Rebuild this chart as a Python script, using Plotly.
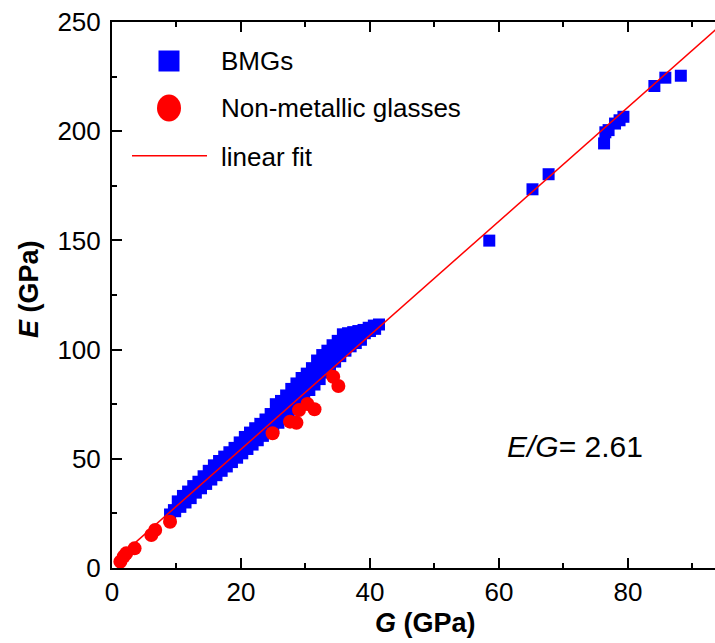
import plotly.graph_objects as go

# ---------------- data ----------------
bmg_G = [9.0, 9.6, 10.4, 11.2, 12.0, 12.8, 13.6, 14.4, 15.2, 16.0, 16.8, 17.6, 18.4, 19.2, 20.0,
         20.8, 21.6, 22.4, 23.2, 24.0, 24.8, 25.6, 26.4, 27.2, 28.0, 28.8, 29.6, 30.4, 31.2, 32.0,
         32.8, 33.6, 34.4, 35.2, 36.0, 36.8, 37.6, 38.4, 39.2, 40.0, 40.8,
         10.2, 11.0, 11.8, 12.6, 13.4, 14.2, 15.0, 15.8, 16.6, 17.4, 18.2, 19.0, 19.8, 20.6, 21.4,
         22.2, 23.0, 23.8, 24.6, 25.4, 26.2, 27.0, 27.8, 28.6, 29.4, 30.2, 31.0, 31.8, 32.6, 33.4,
         34.2, 35.0, 35.8, 36.6, 37.4, 38.2, 39.0, 39.8, 40.6, 41.4,
         9.8, 10.6, 11.4, 12.2, 13.0, 13.8, 14.6, 15.4, 16.2, 17.0, 17.8, 18.6, 19.4, 20.2, 21.0,
         21.8, 22.6, 23.4, 24.2, 25.0, 25.8, 26.6, 27.4, 28.2, 29.0, 29.8, 30.6, 31.4, 32.2, 33.0,
         33.8, 34.6, 35.4, 36.2, 37.0, 37.8, 38.6,
         58.5, 65.2, 67.7, 76.3, 76.5, 77.0, 78.0, 78.7, 79.3, 84.1, 85.8, 88.2]
bmg_E = [24.5, 26.5, 28.5, 30.5, 33.5, 36.0, 38.0, 40.5, 42.5, 44.5, 47.0, 49.0, 51.0, 53.0, 55.0,
         57.5, 59.5, 61.5, 63.5, 65.5, 68.0, 71.0, 73.5, 76.0, 78.5, 81.0, 83.5, 86.0, 88.5, 91.0,
         93.5, 96.0, 98.5, 101.0, 103.0, 104.5, 105.5, 106.5, 107.5, 108.5, 109.5,
         30.5, 33.0, 35.0, 37.5, 39.5, 42.0, 44.5, 47.0, 49.0, 51.0, 53.0, 55.0, 57.5, 60.0, 62.0,
         64.0, 66.0, 68.0, 70.5, 75.0, 76.5, 79.0, 82.0, 84.5, 87.0, 89.0, 91.5, 95.0, 97.5, 99.5,
         102.0, 104.0, 107.0, 107.5, 108.0, 108.5, 109.0, 110.0, 111.0, 111.5,
         26.0, 28.0, 30.0, 32.0, 34.5, 36.5, 38.5, 40.5, 42.5, 44.5, 46.5, 48.5, 50.5, 52.5, 54.5,
         56.5, 58.5, 60.5, 62.0, 64.0, 66.5, 69.0, 71.5, 74.0, 76.5, 79.0, 81.5, 84.0, 86.5, 89.5,
         92.0, 94.5, 97.0, 99.5, 101.5, 103.0, 104.5,
         149.9, 173.4, 180.3, 194.4, 199.5, 200.5, 203.5, 205.0, 206.6, 220.7, 224.5, 225.4]

nmg_G = [1.3, 1.8, 2.2, 3.5, 6.1, 6.7, 9.0, 24.9, 27.6, 28.6, 29.0, 30.3, 31.4, 34.3, 35.1]
nmg_E = [2.9, 5.2, 6.7, 9.0, 15.1, 17.4, 21.2, 61.7, 67.0, 66.5, 72.3, 75.1, 72.7, 87.6, 83.3]

fit_slope = 2.61
fit_intercept = 2.2
fit_G = [0.5, 96.0]
fit_E = [fit_slope * g + fit_intercept for g in fit_G]

legend_labels = ["BMGs", "Non-metallic glasses", "linear fit"]

x_ticks = [0, 20, 40, 60, 80]
y_ticks = [0, 50, 100, 150, 200, 250]

# ---------------- layout helpers ----------------
W, H = 715, 643
L, R, T, B = 112, 0, 22, 75
PW, PH = W - L - R, H - T - B
FONT = "Liberation Sans, Arial, sans-serif"


def fx(px):
    return (px - L) / PW


def fy(py):
    return (H - B - py) / PH


fig = go.Figure()
fig.add_trace(go.Scatter(x=bmg_G, y=bmg_E, mode="markers", name=legend_labels[0],
                         marker=dict(symbol="square", size=12, color="#0000FF",
                                     line=dict(width=0)), showlegend=False))
fig.add_trace(go.Scatter(x=nmg_G, y=nmg_E, mode="markers", name=legend_labels[1],
                         marker=dict(symbol="circle", size=14, color="#FF0000",
                                     line=dict(width=0)), showlegend=False))
fig.add_trace(go.Scatter(x=fit_G, y=fit_E, mode="lines", name=legend_labels[2],
                         line=dict(color="#FF0000", width=1.5), showlegend=False))

axis_common = dict(
    showgrid=False, zeroline=False, showline=True, linecolor="black", linewidth=2,
    ticks="inside", ticklen=10, tickwidth=1.5, tickcolor="black",
    tickfont=dict(family=FONT, size=26, color="black"),
)
fig.update_xaxes(range=[0, 93.5], tickvals=x_ticks, mirror="ticks",
                 minor=dict(dtick=10, tick0=0, ticks="inside", ticklen=5, tickwidth=1.5,
                            tickcolor="black"),
                 ticklabelstandoff=0, **axis_common)
fig.update_yaxes(range=[0, 250], tickvals=y_ticks, mirror=False,
                 minor=dict(dtick=25, tick0=0, ticks="inside", ticklen=5, tickwidth=1.5,
                            tickcolor="black"),
                 ticklabelstandoff=4, **axis_common)

# legend key (drawn as layout shapes)
shapes = [
    dict(type="rect", xref="paper", yref="paper", x0=fx(158.5), x1=fx(179.5),
         y0=fy(71.5), y1=fy(50.5), fillcolor="#0000FF", line=dict(width=0)),
    dict(type="circle", xref="paper", yref="paper", x0=fx(157), x1=fx(181),
         y0=fy(121.5), y1=fy(94.5), fillcolor="#FF0000", line=dict(width=0)),
    dict(type="line", xref="paper", yref="paper", x0=fx(132), x1=fx(207),
         y0=fy(155.7), y1=fy(155.7), line=dict(color="#FF0000", width=1.5)),
]

annotations = []
for lbl, py in zip(legend_labels, [61.5, 108, 156.5]):
    annotations.append(dict(text=lbl, xref="paper", yref="paper", x=fx(219), y=fy(py),
                            xanchor="left", yanchor="middle", showarrow=False,
                            font=dict(family=FONT, size=26, color="black")))
annotations.append(dict(text="<b><i>G</i> (GPa)</b>", xref="paper", yref="paper",
                        x=fx(425), y=fy(623), xanchor="center", yanchor="middle",
                        showarrow=False, font=dict(family=FONT, size=27, color="black")))
annotations.append(dict(text="<b><i>E</i> (GPa)</b>", xref="paper", yref="paper",
                        x=fx(29), y=fy(289), xanchor="center", yanchor="middle",
                        textangle=-90, showarrow=False,
                        font=dict(family=FONT, size=27, color="black")))
annotations.append(dict(text="<i>E/G</i>= 2.61", xref="paper", yref="paper",
                        x=fx(575), y=fy(446), xanchor="center", yanchor="middle",
                        showarrow=False, font=dict(family=FONT, size=30, color="black")))

fig.update_layout(
    width=W, height=H, margin=dict(l=L, r=R, t=T, b=B, pad=0),
    paper_bgcolor="white", plot_bgcolor="white",
    shapes=shapes, annotations=annotations, showlegend=False,
    font=dict(family=FONT, color="black"),
)

fig.write_html("out.html")
